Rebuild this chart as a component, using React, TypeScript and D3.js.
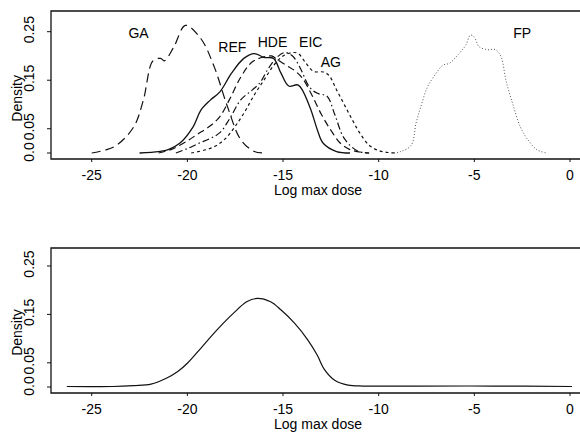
import React, { useRef, useEffect } from 'react';
import * as d3 from 'd3';

// density curves: [log max dose, density]
const gaCurve: [number, number][] = [
    [-25, 0], [-24.3, 0.006], [-23.7, 0.016], [-22.8, 0.054], [-22.3, 0.109], [-21.8, 0.19],
    [-21.4, 0.195], [-21.2, 0.19], [-20.7, 0.219], [-20.1, 0.263], [-19.3, 0.236], [-18.6, 0.178],
    [-17.9, 0.095], [-17.2, 0.027], [-16.5, 0.003], [-16.0, 0],
];
const refCurve: [number, number][] = [
    [-22.5, 0], [-21.5, 0.003], [-21, 0.007], [-20.4, 0.02], [-19.7, 0.054], [-19.3, 0.088],
    [-18.8, 0.109], [-18.3, 0.126], [-17.7, 0.164], [-17.05, 0.195], [-16.5, 0.205], [-16.0, 0.197],
    [-15.5, 0.195], [-15.1, 0.164], [-14.7, 0.138], [-14.2, 0.14], [-13.6, 0.095], [-13.2, 0.047],
    [-12.9, 0.02], [-12.2, 0.003], [-11.5, 0],
];
const hdeCurve: [number, number][] = [
    [-21.5, 0], [-20.8, 0.008], [-20, 0.025], [-19.5, 0.038], [-18.8, 0.056], [-18.3, 0.075],
    [-17.8, 0.11], [-17.2, 0.157], [-16.6, 0.188], [-16.0, 0.198], [-15.6, 0.2], [-15.2, 0.19],
    [-14.8, 0.18], [-14.4, 0.17], [-14, 0.155], [-13.5, 0.12], [-13, 0.08], [-12.5, 0.047],
    [-12, 0.02], [-11.5, 0.007], [-11, 0.002], [-10.5, 0],
];
const eicCurve: [number, number][] = [
    [-20.6, 0], [-20, 0.009], [-19.4, 0.02], [-18.8, 0.03], [-18.3, 0.042], [-17.8, 0.07],
    [-17.2, 0.11], [-16.6, 0.13], [-16.2, 0.145], [-15.8, 0.172], [-15.3, 0.198], [-14.9, 0.207],
    [-14.5, 0.2], [-14.1, 0.175], [-13.6, 0.135], [-13.2, 0.123], [-12.7, 0.117], [-12.3, 0.08],
    [-11.8, 0.03], [-11.1, 0.004], [-10.5, 0],
];
const agCurve: [number, number][] = [
    [-19.8, 0], [-19, 0.007], [-18.5, 0.015], [-18, 0.03], [-17.5, 0.055], [-17, 0.085],
    [-16.5, 0.12], [-16, 0.15], [-15.5, 0.18], [-15, 0.2], [-14.5, 0.207], [-14.2, 0.205],
    [-13.8, 0.185], [-13.4, 0.168], [-12.9, 0.167], [-12.6, 0.16], [-12.2, 0.13], [-11.8, 0.1],
    [-11.4, 0.07], [-11, 0.042], [-10.5, 0.016], [-10, 0.005], [-9.5, 0.001], [-9, 0],
];
const fpCurve: [number, number][] = [
    [-9.2, 0], [-8.85, 0.003], [-8.3, 0.016], [-8.05, 0.061], [-7.8, 0.095], [-7.45, 0.136],
    [-7.0, 0.164], [-6.65, 0.181], [-6.3, 0.185], [-5.8, 0.205], [-5.45, 0.222], [-5.2, 0.243],
    [-5.0, 0.239], [-4.75, 0.219], [-4.3, 0.213], [-3.9, 0.213], [-3.6, 0.198], [-3.35, 0.15],
    [-3.0, 0.102], [-2.6, 0.054], [-2.2, 0.027], [-1.7, 0.006], [-1.2, 0],
];
const pooledCurve: [number, number][] = [
    [-26.3, 0.001], [-23.9, 0.001], [-22.8, 0.003], [-21.9, 0.006], [-21.1, 0.018], [-20.5, 0.032],
    [-20.0, 0.049], [-19.3, 0.08], [-18.45, 0.118], [-17.6, 0.152], [-16.9, 0.176], [-16.35, 0.183],
    [-15.65, 0.176], [-15.1, 0.159], [-14.4, 0.132], [-13.7, 0.097], [-13.2, 0.065], [-12.85, 0.037],
    [-12.3, 0.014], [-11.6, 0.004], [-10.8, 0.002], [-8, 0.002], [-4, 0.002], [0.1, 0.001],
];

const xTicks = [-25, -20, -15, -10, -5, 0];
const yTicks = [0, 0.05, 0.15, 0.25];
const yTickLabels = ['0.0', '0.05', '0.15', '0.25'];

const curveLabels = ['GA', 'REF', 'HDE', 'EIC', 'AG', 'FP'];
const labelDose = [-22.55, -17.65, -15.55, -13.55, -12.5, -2.5];
const labelDensity = [0.238, 0.208, 0.218, 0.218, 0.177, 0.238];

const FONT = '"Liberation Sans", Arial, Helvetica, sans-serif';
const FS = 14;

const App = () => {
    const ref = useRef<SVGSVGElement>(null);

    useEffect(() => {
        const svg = d3.select(ref.current);
        svg.selectAll('*').remove();

        const x = d3.scaleLinear().domain([-25, 0]).range([91.7, 570]);

        const drawPanel = (top: number, bottom: number, yScale: d3.ScaleLinear<number, number>) => {
            const g = svg.append('g');
            // frame: top, left, bottom (right edge falls off the page)
            g.append('path')
                .attr('d', `M590,${top}H51V${bottom}H590`)
                .attr('fill', 'none')
                .attr('stroke', '#111')
                .attr('stroke-width', 1.3);

            const xg = g.append('g').attr('transform', `translate(0,${bottom})`);
            xg.selectAll('line').data(xTicks).enter().append('line')
                .attr('x1', d => x(d)).attr('x2', d => x(d))
                .attr('y1', 0).attr('y2', 3)
                .attr('stroke', '#111');
            xg.selectAll('text').data(xTicks).enter().append('text')
                .attr('x', d => x(d))
                .attr('y', 21)
                .attr('text-anchor', 'middle')
                .attr('font-size', FS)
                .attr('font-family', FONT)
                .text(d => d === 0 ? '0' : String(d));
            g.append('text')
                .attr('x', 318)
                .attr('y', bottom + 36)
                .attr('text-anchor', 'middle')
                .attr('font-size', FS)
                .attr('font-family', FONT)
                .text('Log max dose');

            const yg = g.append('g');
            yg.selectAll('line').data(yTicks).enter().append('line')
                .attr('x1', 47).attr('x2', 51)
                .attr('y1', d => yScale(d)).attr('y2', d => yScale(d))
                .attr('stroke', '#111');
            yg.selectAll('text').data(yTicks).enter().append('text')
                .attr('transform', (d, i) => `translate(34,${yScale(d) - (i === 0 ? 1 : 2)}) rotate(-90)`)
                .attr('text-anchor', 'middle')
                .attr('font-size', FS)
                .attr('font-family', FONT)
                .text((d, i) => yTickLabels[i]);
            g.append('text')
                .attr('transform', `translate(22,${(yScale(0) + yScale(0.25)) / 2 + 6}) rotate(-90)`)
                .attr('text-anchor', 'middle')
                .attr('font-size', FS)
                .attr('font-family', FONT)
                .text('Density');
            return g;
        };

        // top panel
        const yTop = d3.scaleLinear().domain([0, 0.25]).range([153, 31.7]);
        const top = drawPanel(11, 159, yTop);
        const lineTop = d3.line<[number, number]>()
            .x(d => x(d[0]))
            .y(d => yTop(d[1]))
            .curve(d3.curveCatmullRom);

        const series = [
            { data: gaCurve, dash: '9,5', color: '#111', w: 1.2 },
            { data: refCurve, dash: null, color: '#111', w: 1.3 },
            { data: hdeCurve, dash: '7,4', color: '#111', w: 1.2 },
            { data: eicCurve, dash: '7,3,1.5,3', color: '#111', w: 1.2 },
            { data: agCurve, dash: '3,3', color: '#111', w: 1.2 },
            { data: fpCurve, dash: '1,2', color: '#555', w: 1 },
        ];
        series.forEach(s => {
            top.append('path')
                .attr('d', lineTop(s.data))
                .attr('fill', 'none')
                .attr('stroke', s.color)
                .attr('stroke-width', s.w)
                .attr('stroke-dasharray', s.dash);
        });
        top.selectAll('.lbl').data(curveLabels).enter().append('text')
            .attr('class', 'lbl')
            .attr('x', (d, i) => x(labelDose[i]))
            .attr('y', (d, i) => yTop(labelDensity[i]))
            .attr('text-anchor', 'middle')
            .attr('font-size', FS)
            .attr('font-family', FONT)
            .text(d => d);

        // bottom panel
        const yBot = d3.scaleLinear().domain([0, 0.25]).range([387, 266]);
        const bot = drawPanel(248, 393, yBot);
        const lineBot = d3.line<[number, number]>()
            .x(d => x(d[0]))
            .y(d => yBot(d[1]))
            .curve(d3.curveCatmullRom);
        bot.append('path')
            .attr('d', lineBot(pooledCurve))
            .attr('fill', 'none')
            .attr('stroke', '#111')
            .attr('stroke-width', 1.2);
    }, []);

    return (
        <svg
            ref={ref}
            width={580}
            height={434}
            style={{ position: 'absolute', left: 0, top: 0, background: '#fff' }}
        />
    );
};

export default App;
